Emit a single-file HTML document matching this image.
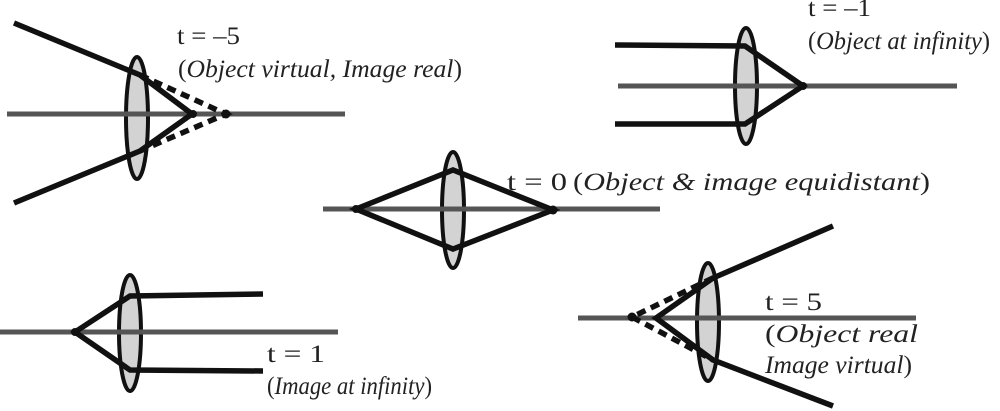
<!DOCTYPE html>
<html><head><style>
html,body{margin:0;padding:0;background:#fff;}
svg{display:block;}
text{font-family:"Liberation Serif",serif;font-size:25px;fill:#222;}
</style></head><body>
<svg width="1000" height="411" viewBox="0 0 1000 411" xmlns="http://www.w3.org/2000/svg">
<g stroke-linecap="butt" fill="none">
<!-- Panel t=-5 -->
<ellipse cx="137" cy="118" rx="11" ry="61" fill="#d3d3d3" stroke="#111" stroke-width="4"/>
<line x1="7" y1="114" x2="345" y2="114" stroke="#555" stroke-width="5"/>
<polyline points="14,23 140,75 192,114 140,151 14,203" stroke="#111" stroke-width="5.5" stroke-linejoin="miter"/>
<polyline points="140,75 226,114 140,151" stroke="#111" stroke-width="5.5" stroke-dasharray="9,6"/>
<circle cx="193" cy="114" r="4" fill="#111"/><circle cx="226" cy="114" r="4.5" fill="#111"/>
<!-- Panel t=-1 -->
<ellipse cx="746" cy="86" rx="11" ry="58" fill="#d3d3d3" stroke="#111" stroke-width="4"/>
<line x1="618" y1="86" x2="957" y2="86" stroke="#555" stroke-width="5"/>
<polyline points="615,45 745,46 803,86 745,124 615,124" stroke="#111" stroke-width="5.5"/>
<circle cx="803" cy="86" r="4" fill="#111"/>
<!-- Panel t=0 -->
<ellipse cx="453" cy="210" rx="11" ry="58" fill="#d3d3d3" stroke="#111" stroke-width="4"/>
<line x1="323" y1="209" x2="660" y2="209" stroke="#555" stroke-width="5"/>
<polygon points="356,209 453,170 553,210 453,249" stroke="#111" stroke-width="5.5"/>
<circle cx="356" cy="209" r="4" fill="#111"/><circle cx="553" cy="210" r="4.5" fill="#111"/>
<!-- Panel t=1 -->
<ellipse cx="130" cy="333" rx="11" ry="58" fill="#d3d3d3" stroke="#111" stroke-width="4"/>
<line x1="0" y1="332" x2="338" y2="332" stroke="#555" stroke-width="5"/>
<polyline points="263,294 130,296 75,332 130,370 263,371" stroke="#111" stroke-width="5.5"/>
<circle cx="75" cy="332" r="4" fill="#111"/>
<!-- Panel t=5 -->
<ellipse cx="708" cy="322" rx="11" ry="59" fill="#d3d3d3" stroke="#111" stroke-width="4"/>
<line x1="578" y1="318" x2="916" y2="318" stroke="#555" stroke-width="5"/>
<polyline points="833,226 713,278 656,318 713,360 833,406" stroke="#111" stroke-width="5.5"/>
<polyline points="713,278 632,317 713,360" stroke="#111" stroke-width="5.5" stroke-dasharray="9,6"/>
<circle cx="632" cy="317" r="4.5" fill="#111"/>
</g>
<text x="177" y="44" textLength="63" lengthAdjust="spacingAndGlyphs">t = –5</text>
<text x="178" y="77" textLength="284" lengthAdjust="spacingAndGlyphs">(<tspan font-style="italic">Object virtual, Image real</tspan>)</text>
<text x="808" y="16" textLength="63" lengthAdjust="spacingAndGlyphs">t = –1</text>
<text x="808" y="49" textLength="182" lengthAdjust="spacingAndGlyphs">(<tspan font-style="italic">Object at infinity</tspan>)</text>
<text x="507" y="190" textLength="60" lengthAdjust="spacingAndGlyphs">t = 0</text>
<text x="573" y="190" textLength="357" lengthAdjust="spacingAndGlyphs">(<tspan font-style="italic">Object &amp; image equidistant</tspan>)</text>
<text x="267" y="362" textLength="58" lengthAdjust="spacingAndGlyphs">t = 1</text>
<text x="267" y="394" textLength="165" lengthAdjust="spacingAndGlyphs">(<tspan font-style="italic">Image at infinity</tspan>)</text>
<text x="765" y="310" textLength="57" lengthAdjust="spacingAndGlyphs">t = 5</text>
<text x="765" y="342" textLength="153" lengthAdjust="spacingAndGlyphs">(<tspan font-style="italic">Object real</tspan></text>
<text x="765" y="373" textLength="147" lengthAdjust="spacingAndGlyphs"><tspan font-style="italic">Image virtual</tspan>)</text>
</svg>
</body></html>
